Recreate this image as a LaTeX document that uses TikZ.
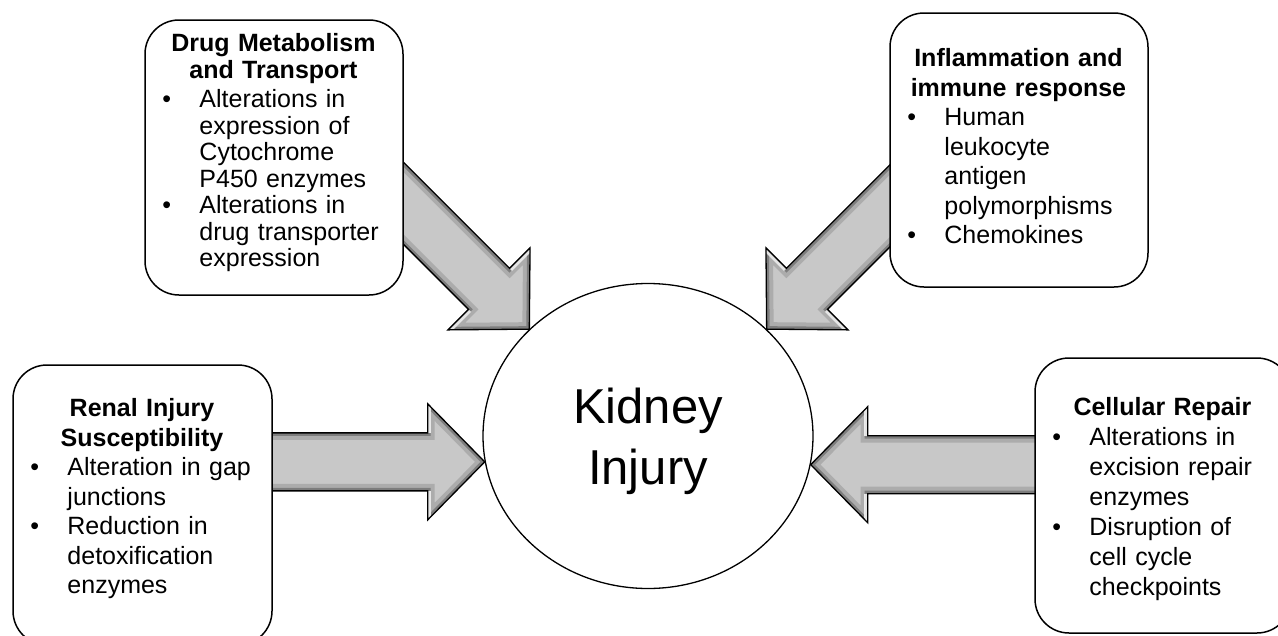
\documentclass[tikz,border=0pt]{standalone}
\usepackage{fontspec}
\setmainfont{Liberation Sans}
\usetikzlibrary{shapes.geometric,calc}

\newcommand{\facbul}{\makebox[40pt][l]{\hspace{3pt}\textbullet}}
\newcommand{\facgap}{\hspace*{40pt}}

\newcommand{\blockarrow}[2]{%
    \coordinate (hb) at ($(#2)!57pt!(#1)$);
    \coordinate (p1) at ($(#1)!29pt!90:(#2)$);
    \coordinate (p2) at ($(hb)!29pt!90:(#2)$);
    \coordinate (p3) at ($(hb)!58pt!90:(#2)$);
    \coordinate (p4) at ($(hb)!58pt!-90:(#2)$);
    \coordinate (p5) at ($(hb)!29pt!-90:(#2)$);
    \coordinate (p6) at ($(#1)!29pt!-90:(#2)$);
    \begin{scope}
        \clip (p1) -- (p2) -- (p3) -- (#2) -- (p4) -- (p5) -- (p6) -- cycle;
        \fill[myarrow] (p1) -- (p2) -- (p3) -- (#2) -- (p4) -- (p5) -- (p6) -- cycle;
        \draw[myarrowmid, line width=14pt] (p1) -- (p2) -- (p3) -- (#2) -- (p4) -- (p5) -- (p6) -- cycle;
        \draw[myarrowdark, line width=6pt] (p1) -- (p2) -- (p3) -- (#2) -- (p4) -- (p5) -- (p6) -- cycle;
        \draw[white, opacity=0.8, line width=7pt] (p2) -- (p3) (p5) -- (p4);
    \end{scope}
    \draw[line width=1.3pt] (p1) -- (p2) -- (p3) -- (#2) -- (p4) -- (p5) -- (p6) -- cycle;
}

\begin{document}
\begin{tikzpicture}[x=1pt, y=-1pt,
    factor/.style={draw, line width=1.5pt, rounded corners=34pt, fill=white, inner sep=0pt},
    factext/.style={anchor=north west, inner sep=0pt, align=left, text width=#1}]
    \definecolor{myarrow}{RGB}{200,200,200}
    \definecolor{myarrowmid}{RGB}{172,172,172}
    \definecolor{myarrowdark}{RGB}{125,125,125}

    \path[fill=white, use as bounding box] (0,0) rectangle (1278,635);

    \node[ellipse, draw, line width=1.3pt, minimum width=330pt, minimum height=305pt, inner sep=0pt] (kid) at (648,436) {};
    \node[align=center, inner sep=0pt, font=\fontsize{49}{61}\selectfont] (kidlbl) at (648,441) {Kidney\\Injury};

    \coordinate (dmtin) at ($(kid.138.5)+(-160,-160)$);
    \coordinate (infin) at ($(kid.42.7)+(160,-160)$);
    \coordinate (risin) at ($(kid.189.7)+(-240,0)$);
    \coordinate (crpin) at ($(kid.350.7)+(240,0)$);
    \blockarrow{dmtin}{kid.138.5}
    \blockarrow{infin}{kid.42.7}
    \blockarrow{risin}{kid.189.7}
    \blockarrow{crpin}{kid.350.7}

    \node[factor, minimum width=258pt, minimum height=275pt] (dmt) at (274,157.5) {};
    \node[factext=228pt, font=\fontsize{25}{26.5}\selectfont] (dmt-t) at ($(dmt.north west)+(15,14)$)
        {{\centering\bfseries Drug Metabolism\\ and Transport\par}\vspace{3pt}
         \facbul Alterations in\\ \facgap expression of\\ \facgap Cytochrome\\ \facgap P450 enzymes\\
         \facbul Alterations in\\ \facgap drug transporter\\ \facgap expression};

    \node[factor, minimum width=258pt, minimum height=274pt] (inf) at (1019,150) {};
    \node[factext=228pt, font=\fontsize{25}{29.5}\selectfont] (inf-t) at ($(inf.north west)+(15,36)$)
        {{\centering\bfseries Inflammation and\\ immune response\par}
         \facbul Human\\ \facgap leukocyte\\ \facgap antigen\\ \facgap polymorphisms\\
         \facbul Chemokines};

    \node[factor, minimum width=259pt, minimum height=280pt] (ris) at (142.5,505) {};
    \node[factext=229pt, font=\fontsize{25}{29.5}\selectfont] (ris-t) at ($(ris.north west)+(15,34)$)
        {{\centering\bfseries Renal Injury\\ Susceptibility\par}
         \facbul Alteration in gap\\ \facgap junctions\\
         \facbul Reduction in\\ \facgap detoxification\\ \facgap enzymes};

    \node[factor, minimum width=256pt, minimum height=275pt] (crp) at (1163,495.5) {};
    \node[factext=226pt, font=\fontsize{25}{30}\selectfont] (crp-t) at ($(crp.north west)+(15,40)$)
        {{\centering\bfseries Cellular Repair\par}
         \facbul Alterations in\\ \facgap excision repair\\ \facgap enzymes\\
         \facbul Disruption of\\ \facgap cell cycle\\ \facgap checkpoints};
\end{tikzpicture}
\end{document}
